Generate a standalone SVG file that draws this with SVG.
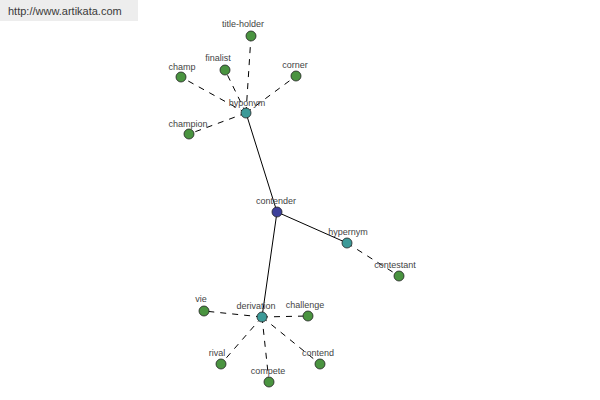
<svg xmlns="http://www.w3.org/2000/svg" width="600" height="400" viewBox="0 0 600 400">
<style>
text{font-family:"Liberation Sans",Arial,sans-serif;font-size:9px;fill:#444;text-anchor:middle}
.n{stroke:#222;stroke-width:0.8}
.g{fill:#4a9440}
.t{fill:#3c9a98}
.c{fill:#3c3f9a}
.s{stroke:#000;stroke-width:1;fill:none}
.d{stroke:#000;stroke-width:1;fill:none;stroke-dasharray:6,6}
</style>
<rect x="0" y="0" width="138" height="21" fill="#ededed"/>
<text x="8" y="15" style="text-anchor:start;font-size:11px;fill:#3a3a3a">http://www.artikata.com</text>
<g id="connectors">
<line class="s" x1="277" y1="212" x2="246" y2="113"/>
<line class="s" x1="277" y1="212" x2="347" y2="243"/>
<line class="s" x1="277" y1="212" x2="262" y2="317"/>
<line class="d" x1="246" y1="113" x2="251" y2="36"/>
<line class="d" x1="246" y1="113" x2="225" y2="70"/>
<line class="d" x1="246" y1="113" x2="181" y2="77"/>
<line class="d" x1="246" y1="113" x2="296" y2="76"/>
<line class="d" x1="246" y1="113" x2="189" y2="134"/>
<line class="d" x1="347" y1="243" x2="399" y2="276"/>
<line class="d" x1="262" y1="317" x2="204" y2="311"/>
<line class="d" x1="262" y1="317" x2="308" y2="316"/>
<line class="d" x1="262" y1="317" x2="221" y2="364"/>
<line class="d" x1="262" y1="317" x2="269" y2="382"/>
<line class="d" x1="262" y1="317" x2="320" y2="364"/>
</g>
<g id="title-holder"><circle class="n g" cx="251" cy="36" r="5"/><text x="243" y="27">title-holder</text></g>
<g id="finalist"><circle class="n g" cx="225" cy="70" r="5"/><text x="218" y="61">finalist</text></g>
<g id="champ"><circle class="n g" cx="181" cy="77" r="5"/><text x="182" y="70">champ</text></g>
<g id="corner"><circle class="n g" cx="296" cy="76" r="5"/><text x="295" y="68">corner</text></g>
<g id="hyponym"><circle class="n t" cx="246" cy="113" r="5"/><text x="247" y="106">hyponym</text></g>
<g id="champion"><circle class="n g" cx="189" cy="134" r="5"/><text x="188" y="127">champion</text></g>
<g id="contender"><circle class="n c" cx="277" cy="212" r="5"/><text x="276" y="204">contender</text></g>
<g id="hypernym"><circle class="n t" cx="347" cy="243" r="5"/><text x="348" y="235">hypernym</text></g>
<g id="contestant"><circle class="n g" cx="399" cy="276" r="5"/><text x="395" y="268">contestant</text></g>
<g id="derivation"><circle class="n t" cx="262" cy="317" r="5"/><text x="256" y="309">derivation</text></g>
<g id="vie"><circle class="n g" cx="204" cy="311" r="5"/><text x="201" y="302">vie</text></g>
<g id="challenge"><circle class="n g" cx="308" cy="316" r="5"/><text x="305" y="308">challenge</text></g>
<g id="rival"><circle class="n g" cx="221" cy="364" r="5"/><text x="217" y="356">rival</text></g>
<g id="compete"><circle class="n g" cx="269" cy="382" r="5"/><text x="268" y="374">compete</text></g>
<g id="contend"><circle class="n g" cx="320" cy="364" r="5"/><text x="318" y="356">contend</text></g>
</svg>
